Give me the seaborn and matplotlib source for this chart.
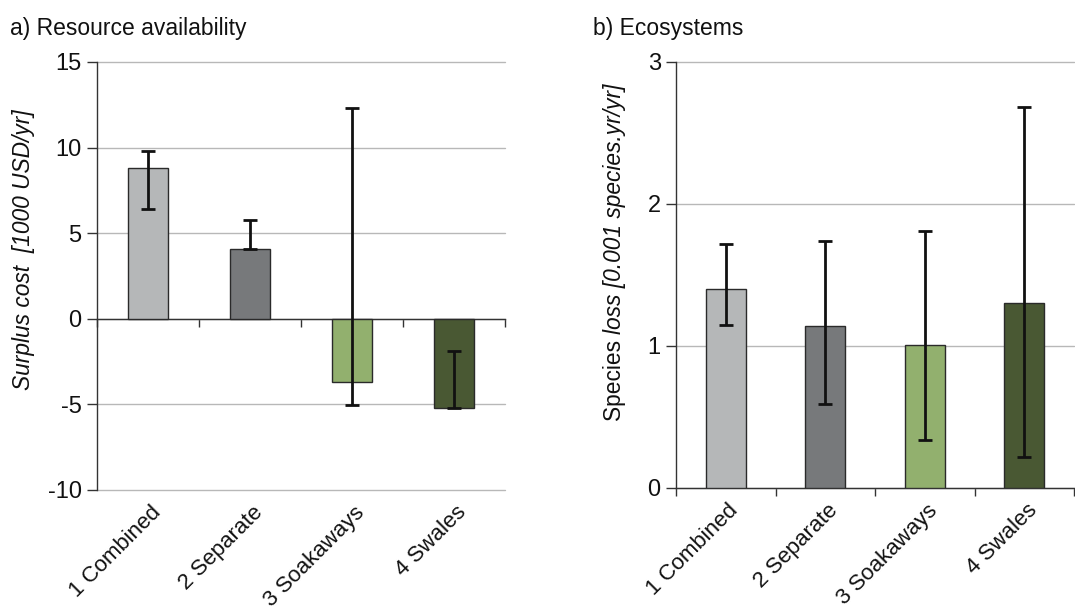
import numpy as np
import pandas as pd
import matplotlib
matplotlib.use("Agg")
import matplotlib.pyplot as plt
import seaborn as sns

categories = ["1 Combined", "2 Separate", "3 Soakaways", "4 Swales"]
colors = ["#b4b7b8", "#76797c", "#93bb63", "#4a5e2d"]

cost_values = [8.8, 4.05, -3.7, -5.2]
cost_low = [6.4, 4.05, -5.05, -5.2]
cost_high = [9.8, 5.75, 12.3, -1.9]

species_values = [1.40, 1.14, 1.01, 1.30]
species_low = [1.15, 0.59, 0.34, 0.22]
species_high = [1.72, 1.74, 1.81, 2.68]

sns.set_theme(style="white")
plt.rcParams["font.family"] = ["Liberation Sans", "DejaVu Sans"]

fig = plt.figure(figsize=(10.75, 6.11), dpi=100)
ax1 = fig.add_axes([97/1075, 1-490/611, (505-97)/1075, (490-62)/611])
ax2 = fig.add_axes([676/1075, 1-488/611, (1074-676)/1075, (488-62)/611])


def draw(ax, values, low, high, ylim, yticks):
    df = pd.DataFrame({"cat": categories, "val": values})
    sns.barplot(data=df, x="cat", y="val", hue="cat", palette=colors,
                legend=False, width=0.4, edgecolor="#2a2a2a", linewidth=1.0,
                ax=ax, zorder=3)
    x = np.arange(len(categories))
    v = np.array(values)
    yerr = [v - np.array(low), np.array(high) - v]
    ax.errorbar(x, v, yerr=yerr, fmt="none", ecolor="#111111",
                elinewidth=2, capsize=5, capthick=2, zorder=4)
    ax.set_ylim(*ylim)
    ax.set_xlim(-0.5, len(categories) - 0.5)
    ax.set_yticks(yticks)
    ax.set_yticklabels([str(t) for t in yticks], fontsize=17, color="#111111")
    ax.yaxis.grid(True, color="#b8b8b8", linewidth=1.0, zorder=0)
    for gl in ax.yaxis.get_gridlines():
        gl.set_clip_on(False)
    ax.set_axisbelow(True)
    for s in ["top", "right"]:
        ax.spines[s].set_visible(False)
    ax.spines["left"].set_color("#333333")
    ax.spines["left"].set_linewidth(1.0)
    ax.spines["bottom"].set_position(("data", 0))
    ax.spines["bottom"].set_color("#333333")
    ax.spines["bottom"].set_linewidth(1.0)
    ax.tick_params(axis="y", which="major", length=7, width=1,
                   color="#333333", left=True, direction="out", pad=4)
    ax.set_xticks(np.arange(-0.5, len(categories)), minor=True)
    ax.tick_params(axis="x", which="minor", length=6, width=1,
                   color="#333333", bottom=True, direction="out")
    ax.set_xticks(x)
    ax.set_xticklabels([])
    ax.tick_params(axis="x", which="major", length=0)
    ax.set_xlabel("")
    ax.set_ylabel("")
    for xi, lab in zip(x, categories):
        ax.text(xi + 0.02, -0.028, lab, transform=ax.get_xaxis_transform(),
                rotation=45, ha="right", va="top", rotation_mode="anchor",
                fontsize=16, color="#111111")


draw(ax1, cost_values, cost_low, cost_high, (-10, 15), [-10, -5, 0, 5, 10, 15])
draw(ax2, species_values, species_low, species_high, (0, 3), [0, 1, 2, 3])

fig.text(0.009, 0.953, "a) Resource availability", fontsize=16.5, color="#111111",
         ha="left", va="center")
fig.text(0.552, 0.953, "b) Ecosystems", fontsize=16.5, color="#111111",
         ha="left", va="center")

fig.text(24/1075, 1-250/611, "Surplus cost  [1000 USD/yr]", rotation=90,
         fontsize=16.4, style="italic", ha="center", va="center", color="#111111")

# Right y label: "Species" upright, rest italic
y_bottom = 1 - 421/611
t1 = fig.text(614/1075, y_bottom, "Species ", rotation=90, fontsize=16.4,
              ha="center", va="bottom", color="#111111")
fig.canvas.draw()
bb = t1.get_window_extent(renderer=fig.canvas.get_renderer())
fig_h = fig.bbox.height
fig.text(614/1075, bb.y1 / fig_h, "loss [0.001 species.yr/yr]", rotation=90,
         fontsize=16.4, style="italic", ha="center", va="bottom", color="#111111")

fig.savefig("out.png", dpi=100)
